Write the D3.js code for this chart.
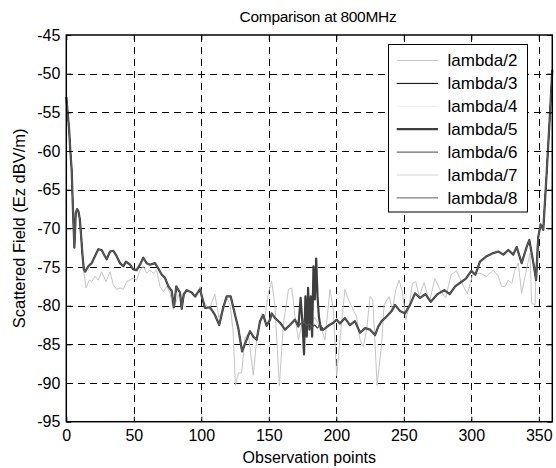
<!DOCTYPE html>
<html><head><meta charset="utf-8">
<script src="https://cdn.jsdelivr.net/npm/d3@7"></script>
<style>
html,body{margin:0;padding:0;background:#fff;}
text{font-family:"Liberation Sans",Arial,sans-serif;fill:#000;}
</style></head>
<body>
<svg id="chart" width="556" height="468"></svg>
<script>
// ---------- data (observation point, Ez dBV/m) ----------
const titleText = "Comparison at 800MHz";
const xLabel = "Observation points";
const yLabel = "Scattered Field (Ez dBV/m)";
const xTicks = [0, 50, 100, 150, 200, 250, 300, 350];
const yTicks = [-95, -90, -85, -80, -75, -70, -65, -60, -55, -50, -45];
const seriesNames = ["lambda/2","lambda/3","lambda/4","lambda/5","lambda/6","lambda/7","lambda/8"];

// dark group (lambda/3..8 nearly coincide)
const darkPts = [
 [0,-53],[1,-55],[2,-57],[3,-60],[4,-62.5],[5,-68],[6,-72.5],[7,-68],[8,-67.5],[9,-67.8],[10,-68.8],
 [11,-71],[12,-73.5],[13,-75.3],[14,-75.6],[16.3,-74.9],[18.8,-74.5],[21.2,-73.6],[23.7,-72.7],[26.2,-72.8],
 [28.6,-73.6],[29.9,-74.0],[32.4,-73.0],[34.8,-72.9],[37.3,-73.6],[39.8,-74.5],[42.2,-74.9],[44.2,-74.3],
 [47.2,-74.7],[49.6,-75.3],[52.1,-75.4],[54.6,-74.7],[57,-73.8],[59.5,-74.5],[62,-74.7],[65.7,-74.5],
 [68.2,-75.2],[70.7,-76.0],[73.1,-76.4],[75.6,-77.5],[78.1,-78.1],[79.7,-80.2],[81.5,-77.5],[84.2,-78.3],
 [85.5,-80.4],[87,-78.5],[89.2,-78.0],[92.9,-78.3],[95.4,-78.8],[99,-77.9],[102.7,-80.3],[106.4,-80.2],
 [110.1,-81.2],[113.3,-82.5],[116.3,-80.2],[118.8,-78.8],[121.8,-78.8],[125,-81.2],[127.4,-82.9],
 [130.2,-85.9],[133.6,-84.4],[136.1,-83.3],[138.5,-84.0],[141,-84.4],[143.5,-82.0],[145.9,-81.2],
 [148.4,-82.6],[150.9,-81.8],[152.1,-81.0],[154.6,-81.6],[158.3,-82.2],[162,-83.1],[165.7,-82.5],
 [169.4,-81.8],[171.9,-82.7],[174,-82.2],[176,-82.0],[178,-82.6],[180,-82.3],[182,-82.8],[184,-82.5],
 [186,-82.9],[188,-82.4],[190.4,-83.1],[194.1,-82.6],[197.8,-82.2],[200.3,-81.8],[202.7,-82.3],
 [206.4,-81.6],[210.1,-82.5],[213.8,-82.0],[217.6,-83.5],[221.3,-82.9],[225,-83.1],[228.7,-83.8],
 [231.1,-82.7],[233.6,-82.0],[237.3,-81.4],[241,-80.7],[243.5,-79.9],[247.2,-80.7],[250.9,-81.0],
 [254.6,-79.9],[258.3,-78.4],[262,-79.0],[266,-78.5],[270,-79.5],[275,-78.5],[280,-78.0],[284,-78.5],
 [288,-77.5],[292,-77.0],[296,-76.5],[300,-75.5],[303,-76.0],[306.4,-74.3],[311.4,-73.6],[316.3,-73.2],
 [320,-73.0],[323.7,-73.4],[327.4,-72.8],[331.1,-73.4],[333.6,-72.4],[337.3,-74.5],[341,-72.4],
 [343,-71.5],[346,-74.5],[348,-76.7],[349.6,-71.1],[351.4,-69.5],[353.3,-70.2],[355.8,-62.9],
 [358.3,-55.1],[359.6,-50.8],[360,-49.5]
];

// oscillating segment seen on one dark trace (lambda/5)
const spikePts = [
 [173.6,-79.0],[175.1,-82.7],[176.1,-86.3],[177.1,-78.8],[178.1,-84.0],[179.1,-77.7],[180.1,-83.1],
 [181.1,-78.8],[182.1,-84.0],[183.1,-74.9],[184.1,-79.2],[185.1,-73.9],[186.1,-78.8],[187.1,-81.4],[188.6,-83.1]
];

// lambda/2 (light grey)
const lightPts = [
 [0,-53],[1,-55],[2,-57],[3,-60],[4,-62.5],[5,-68],[6,-72.5],[7,-68],[8,-67.5],[9,-67.8],[10,-68.8],
 [11,-71],[12,-73.5],[12.6,-75.2],[14.6,-77.7],[17.1,-76.7],[18.8,-76.9],[21.2,-76.2],[23.7,-76.7],
 [26.2,-75.6],[29.4,-76.9],[32.4,-75.6],[34.8,-77.3],[37.3,-77.9],[39.8,-77.7],[42.2,-77.9],[44.7,-76.9],
 [47.2,-76.7],[49.6,-76.4],[52.1,-76.7],[54.6,-75.4],[57,-74.9],[59.5,-75.8],[62,-75.4],[64.5,-75.8],
 [66.9,-75.4],[69.4,-77.5],[71.9,-78.2],[74.4,-77.5],[76.9,-78.4],[79.3,-80.5],[81.8,-79.2],[84.2,-78.2],
 [86,-79.5],[89,-78.0],[93,-78.3],[96,-79.0],[99,-77.5],[102,-79.5],[106,-80.5],[110,-78.5],[113,-81.5],
 [116.5,-80.5],[119,-79.0],[121.5,-80.0],[123.6,-83.4],[125.3,-90.3],[127.5,-88.7],[129.9,-88.7],
 [132.3,-84.2],[134.8,-83.6],[138.5,-89.0],[141,-84.4],[144.7,-81.0],[147.2,-81.4],[149.6,-78.4],
 [152.1,-76.8],[154.6,-80.1],[157.8,-90.4],[160.9,-82.2],[164.6,-77.9],[167,-77.7],[169.4,-81.4],
 [171.9,-84.4],[175,-82.0],[178,-81.0],[181,-82.5],[184,-81.5],[187,-82.5],[189,-83.0],[191.6,-84.4],
 [195.3,-77.9],[197.8,-80.5],[200.3,-89.1],[202.7,-84.4],[206.4,-77.9],[209,-79.2],[212.5,-80.5],
 [215,-81.4],[217.6,-84.4],[220,-85.3],[222.5,-83.1],[225,-78.8],[227,-79.2],[228.7,-84.9],[230.2,-90.3],
 [233.6,-84.9],[235.4,-79.9],[239.1,-78.8],[241.6,-80.5],[244.1,-77.9],[246.5,-76.7],[249,-78.2],
 [251.5,-81.8],[254,-80.1],[256.4,-77.1],[258.9,-76.9],[261.4,-78.8],[265,-77.0],[269,-79.5],[273,-76.5],
 [277,-78.0],[281,-79.0],[285,-76.0],[289,-75.5],[293,-77.0],[297,-78.5],[301,-76.0],[306.4,-75.8],
 [311.4,-76.2],[316.3,-75.4],[320,-76.2],[322.4,-77.5],[325,-77.5],[327.4,-76.7],[330,-77.1],
 [332.3,-75.4],[334.8,-74.5],[337.3,-78.4],[339.8,-76.2],[343.5,-73.2],[344.7,-79.7],[347.2,-79.9],
 [348.4,-72.8],[351,-69.3],[353.3,-70.2],[355.8,-62.9],[358.3,-55.1],[359.6,-50.8],[360,-49.5]
];

const lambda5Pts = darkPts.filter(p => p[0] < 173 || p[0] > 189).concat(spikePts).sort((a,b)=>a[0]-b[0]);

const seriesData = {
  "lambda/2": lightPts, "lambda/3": darkPts, "lambda/4": darkPts, "lambda/5": lambda5Pts,
  "lambda/6": darkPts, "lambda/7": darkPts, "lambda/8": darkPts
};
const seriesStyle = {
  "lambda/2": {c:"#c4c4c4", w:1},
  "lambda/3": {c:"#000000", w:1},
  "lambda/4": {c:"#ececec", w:1},
  "lambda/5": {c:"#3e3e3e", w:2.2},
  "lambda/6": {c:"#444444", w:1},
  "lambda/7": {c:"#d6d6d6", w:1},
  "lambda/8": {c:"#5e5e5e", w:1}
};
const drawOrder = ["lambda/2","lambda/4","lambda/7","lambda/3","lambda/5","lambda/6","lambda/8"];

// ---------- layout ----------
const L = 66.3, R = 552.3, T = 35, B = 421.7;
const svg = d3.select("#chart");
const x = d3.scaleLinear().domain([0, 360]).range([L, R]);
const y = d3.scaleLinear().domain([-95, -45]).range([B, T]);

// grid
const grid = svg.append("g").attr("stroke", "#000").attr("stroke-width", 1)
  .attr("stroke-dasharray", "7,5").attr("shape-rendering", "crispEdges");
grid.selectAll(".gx").data(xTicks.filter(d => d > 0)).join("line")
  .attr("x1", d => Math.round(x(d)) + 0.5).attr("x2", d => Math.round(x(d)) + 0.5)
  .attr("y1", T).attr("y2", B);
grid.selectAll(".gy").data(yTicks.filter(d => d > -95 && d < -45)).join("line")
  .attr("y1", d => Math.round(y(d)) + 0.5).attr("y2", d => Math.round(y(d)) + 0.5)
  .attr("x1", L).attr("x2", R);

// lines
const line = d3.line().x(d => x(d[0])).y(d => y(d[1]));
const lines = svg.append("g").attr("fill", "none");
drawOrder.forEach(name => {
  lines.append("path").datum(seriesData[name])
    .attr("d", line)
    .attr("stroke", seriesStyle[name].c)
    .attr("stroke-width", seriesStyle[name].w)
    .attr("stroke-linejoin", "round");
});

// axes with inner ticks
const fs = 16;
const fmt = d => String(d);
const axB = d3.axisBottom(x).tickValues(xTicks).tickSize(-5).tickPadding(8).tickFormat(fmt);
const axT = d3.axisTop(x).tickValues(xTicks).tickSize(-5).tickFormat("");
const axL = d3.axisLeft(y).tickValues(yTicks).tickSize(-5).tickPadding(6).tickFormat(fmt);
const axR = d3.axisRight(y).tickValues(yTicks).tickSize(-5).tickFormat("");
function styleAxis(g) {
  g.select(".domain").remove();
  g.selectAll("line").attr("stroke", "#000");
  g.selectAll("text").attr("font-size", fs).attr("font-family", "Liberation Sans, Arial, sans-serif").attr("fill", "#000");
}
svg.append("g").attr("transform", `translate(0,${B})`).call(axB).call(styleAxis);
svg.append("g").attr("transform", `translate(0,${T})`).call(axT).call(styleAxis);
svg.append("g").attr("transform", `translate(${L},0)`).call(axL).call(styleAxis);
svg.append("g").attr("transform", `translate(${R},0)`).call(axR).call(styleAxis);

// box
svg.append("rect").attr("x", L).attr("y", T).attr("width", R - L).attr("height", B - T)
  .attr("fill", "none").attr("stroke", "#000").attr("stroke-width", 1.5);

// titles
svg.append("text").attr("x", 318).attr("y", 22).attr("text-anchor", "middle")
  .attr("font-size", 15.5).attr("letter-spacing", -0.3).text(titleText);
svg.append("text").attr("x", (L + R) / 2).attr("y", 463).attr("text-anchor", "middle")
  .attr("font-size", fs).text(xLabel);
svg.append("text").attr("transform", `translate(25,${(T + B) / 2}) rotate(-90)`).attr("text-anchor", "middle")
  .attr("font-size", 16.5).text(yLabel);

// legend
const lg = svg.append("g");
lg.append("rect").attr("x", 388.5).attr("y", 44.5).attr("width", 139).attr("height", 167.5)
  .attr("fill", "#fff").attr("stroke", "#000").attr("stroke-width", 1);
seriesNames.forEach((name, i) => {
  const yy = 60.5 + i * 22.9;
  lg.append("line").attr("x1", 396.7).attr("x2", 438).attr("y1", yy).attr("y2", yy)
    .attr("stroke", seriesStyle[name].c).attr("stroke-width", seriesStyle[name].w);
  lg.append("text").attr("x", 447.5).attr("y", yy).attr("dy", "0.35em")
    .attr("font-size", 17).text(name);
});
</script>
</body></html>
